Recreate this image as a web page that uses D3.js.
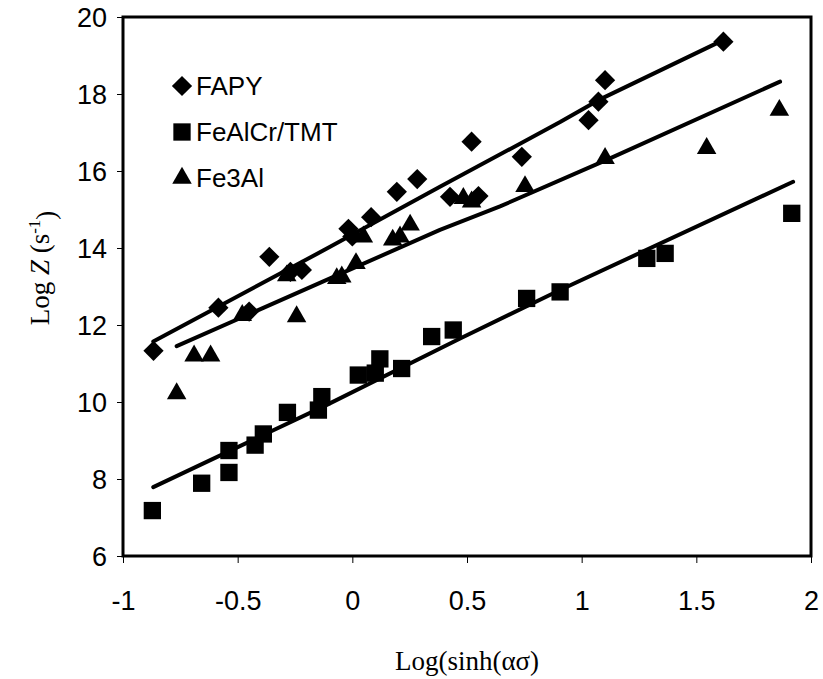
<!DOCTYPE html>
<html>
<head>
<meta charset="utf-8">
<script src="https://cdn.jsdelivr.net/npm/d3@7"></script>
<style>
  html, body { margin: 0; padding: 0; background: #fff; }
  svg { display: block; }
</style>
</head>
<body>
<svg id="chart" width="823" height="679"></svg>
<script>
// ---- data ----
const xTickValues = [-1, -0.5, 0, 0.5, 1, 1.5, 2];
const xTickLabels = ["-1", "-0.5", "0", "0.5", "1", "1.5", "2"];
const yTickValues = [6, 8, 10, 12, 14, 16, 18, 20];
const yTickLabels = ["6", "8", "10", "12", "14", "16", "18", "20"];

const seriesNames = ["FAPY", "FeAlCr/TMT", "Fe3Al"];

const fapyX = [-0.867, -0.584, -0.45, -0.362, -0.27, -0.22, -0.017, 0.0, 0.082, 0.194, 0.283, 0.426, 0.52, 0.55, 0.739, 1.03, 1.073, 1.102, 1.618];
const fapyY = [11.33, 12.45, 12.35, 13.77, 13.38, 13.43, 14.5, 14.3, 14.8, 15.46, 15.79, 15.33, 16.76, 15.35, 16.37, 17.32, 17.8, 18.36, 19.36];

const fealcrX = [-0.872, -0.657, -0.538, -0.538, -0.424, -0.388, -0.283, -0.148, -0.133, 0.026, 0.1, 0.12, 0.215, 0.346, 0.44, 0.76, 0.906, 1.284, 1.364, 1.916];
const fealcrY = [7.18, 7.89, 8.17, 8.74, 8.88, 9.17, 9.73, 9.79, 10.14, 10.7, 10.75, 11.12, 10.87, 11.7, 11.87, 12.69, 12.86, 13.73, 13.86, 14.9];

const fe3alX = [-0.766, -0.69, -0.618, -0.48, -0.286, -0.243, -0.068, -0.046, 0.016, 0.048, 0.176, 0.208, 0.252, 0.484, 0.52, 0.753, 1.102, 1.545, 1.862];
const fe3alY = [10.22, 11.2, 11.2, 12.25, 13.28, 12.22, 13.21, 13.25, 13.6, 14.29, 14.21, 14.29, 14.6, 15.29, 15.2, 15.6, 16.33, 16.59, 17.58];

// fitted (model) lines
const fapyLineX = [-0.868, -0.097, 0.382, 0.906, 1.073, 1.617];
const fapyLineY = [11.57, 14.03, 15.59, 17.27, 17.84, 19.40];
const fealcrLineX = [-0.868, -0.12, 0.47, 0.906, 1.922];
const fealcrLineY = [7.79, 9.9, 11.65, 12.91, 15.72];
const fe3alLineX = [-0.766, -0.097, 0.382, 0.644, 1.109, 1.865];
const fe3alLineY = [11.45, 13.21, 14.47, 15.08, 16.29, 18.32];

// ---- drawing ----
const svg = d3.select("#chart");
const mLeft = 123, mRight = 811, mTop = 17, mBottom = 556;

const x = d3.scaleLinear().domain([-1, 2]).range([mLeft, mRight]);
const y = d3.scaleLinear().domain([6, 20]).range([mBottom, mTop]);

const tickFont = "'Liberation Sans', Arial, sans-serif";
const serif = "'Liberation Serif', 'Times New Roman', serif";

// axes
const xAxis = d3.axisBottom(x).tickValues(xTickValues)
  .tickFormat((d, i) => xTickLabels[i]).tickSize(7).tickSizeOuter(0).tickPadding(28);
const yAxis = d3.axisLeft(y).tickValues(yTickValues)
  .tickFormat((d, i) => yTickLabels[i]).tickSize(6).tickSizeOuter(0).tickPadding(10);

const gx = svg.append("g").attr("transform", `translate(0,${mBottom})`).call(xAxis);
const gy = svg.append("g").attr("transform", `translate(${mLeft},0)`).call(yAxis);
[gx, gy].forEach(g => {
  g.select(".domain").remove();
  g.selectAll(".tick line").attr("stroke", "#000").attr("stroke-width", 1);
  g.selectAll(".tick text").attr("fill", "#000")
    .style("font-family", tickFont).style("font-size", "27px");
});
gx.selectAll(".tick text").attr("dy", "0.71em");
gy.selectAll(".tick text").attr("dy", "0.36em");

// frame
svg.append("rect")
  .attr("x", mLeft).attr("y", mTop)
  .attr("width", mRight - mLeft).attr("height", mBottom - mTop)
  .attr("fill", "none").attr("stroke", "#000").attr("stroke-width", 3);

// lines
const line = d3.line().x(d => x(d[0])).y(d => y(d[1]));
const lines = [
  d3.zip(fapyLineX, fapyLineY),
  d3.zip(fealcrLineX, fealcrLineY),
  d3.zip(fe3alLineX, fe3alLineY)
];
svg.append("g").selectAll("path").data(lines).join("path")
  .attr("d", line)
  .attr("fill", "none").attr("stroke", "#000")
  .attr("stroke-width", 4).attr("stroke-linecap", "round").attr("stroke-linejoin", "round");

// markers
const diamondPath = d3.symbol().type(d3.symbolSquare).size(205)();
const squarePath = d3.symbol().type(d3.symbolSquare).size(300)();
const trianglePath = d3.symbol().type(d3.symbolTriangle).size(165)();

function drawMarkers(xs, ys, path, rotate) {
  svg.append("g").selectAll("path").data(d3.zip(xs, ys)).join("path")
    .attr("d", path)
    .attr("transform", d => `translate(${x(d[0])},${y(d[1])})` + (rotate ? " rotate(45)" : ""))
    .attr("fill", "#000");
}
drawMarkers(fapyX, fapyY, diamondPath, true);
drawMarkers(fealcrX, fealcrY, squarePath, false);
drawMarkers(fe3alX, fe3alY, trianglePath, false);

// legend
const legendItems = [
  { name: seriesNames[0], path: diamondPath, rot: true, cy: 86 },
  { name: seriesNames[1], path: squarePath, rot: false, cy: 132 },
  { name: seriesNames[2], path: trianglePath, rot: false, cy: 178 }
];
const lg = svg.append("g");
legendItems.forEach(it => {
  lg.append("path").attr("d", it.path)
    .attr("transform", `translate(182,${it.cy})` + (it.rot ? " rotate(45)" : ""))
    .attr("fill", "#000");
  lg.append("text").attr("x", 196).attr("y", it.cy + 9)
    .style("font-family", tickFont).style("font-size", "26px")
    .attr("fill", "#000").text(it.name);
});

// axis titles
svg.append("text")
  .attr("x", (mLeft + mRight) / 2).attr("y", 670)
  .attr("text-anchor", "middle")
  .style("font-family", serif).style("font-size", "27px")
  .text("Log(sinh(ασ)");

const yt = svg.append("text")
  .attr("transform", "translate(49,268) rotate(-90)")
  .attr("text-anchor", "middle")
  .style("font-family", serif).style("font-size", "27px");
yt.append("tspan").text("Log ");
yt.append("tspan").style("font-style", "italic").text("Z");
yt.append("tspan").text(" (s");
yt.append("tspan").attr("dy", "-0.55em").style("font-size", "17px").text("-1");
yt.append("tspan").attr("dy", "0.55em").text(")");
</script>
</body>
</html>
